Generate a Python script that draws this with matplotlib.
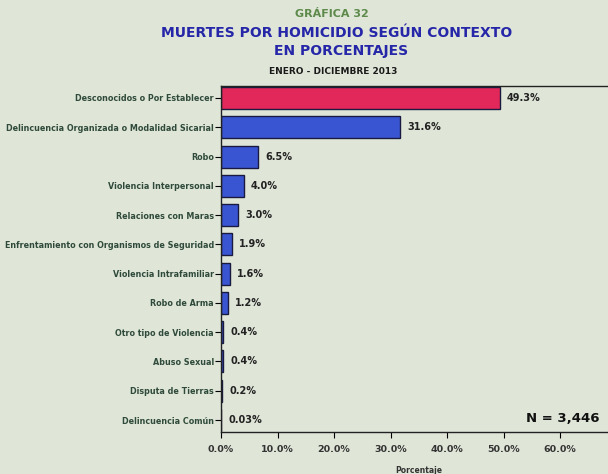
import numpy as np
from matplotlib import pyplot as plt

categories = ['Desconocidos o Por Establecer',
              'Delincuencia Organizada o Modalidad Sicarial',
              'Robo',
              'Violencia Interpersonal',
              'Relaciones con Maras',
              'Enfrentamiento con Organismos de Seguridad',
              'Violencia Intrafamiliar',
              'Robo de Arma',
              'Otro tipo de Violencia',
              'Abuso Sexual',
              'Disputa de Tierras',
              'Delincuencia Común']
values = [49.3, 31.6, 6.5, 4.0, 3.0, 1.9, 1.6, 1.2, 0.4, 0.4, 0.2, 0.03]
value_labels = ['49.3%', '31.6%', '6.5%', '4.0%', '3.0%', '1.9%', '1.6%',
                '1.2%', '0.4%', '0.4%', '0.2%', '0.03%']
xticks = [0, 10, 20, 30, 40, 50, 60]
n_total = '3,446'

bg = '#dfe6d8'
label_col = '#2f4a3a'

fig = plt.figure(figsize=(6.08, 4.74), dpi=100, facecolor=bg)
ax = fig.add_axes([0.3635, 0.0886, 0.6505, 0.73])
ax.set_facecolor(bg)

y = np.arange(len(categories))
colors = ['#e2285a'] + ['#3a55d2'] * (len(categories) - 1)
ax.barh(y, values, height=0.75, color=colors, edgecolor='#1a1a40', linewidth=1.0)

for yi, v, lab in zip(y, values, value_labels):
	ax.text(v + 1.3, yi, lab, va='center', ha='left', fontsize=7,
			fontweight='bold', color='#222222')

ax.set_ylim(11.41, -0.41)
ax.set_xlim(0, 70)
ax.set_yticks(y)
ax.set_yticklabels(categories, fontsize=5.75, color=label_col, fontweight='bold')
ax.set_xticks(xticks)
ax.set_xticklabels(['%.1f%%' % t for t in xticks], fontsize=6.8,
				   fontweight='bold', color='#333333')
ax.tick_params(axis='y', length=4, width=0.8, pad=1)
ax.tick_params(axis='x', length=4, width=0.8, pad=5)
for s in ax.spines.values():
	s.set_linewidth(1.0)
	s.set_color('#222222')

ax.set_xlabel('Porcentaje', fontsize=5.5, fontweight='bold', color='#333333', labelpad=9)

fig.text(0.926, 0.118, 'N = ' + n_total, fontsize=9.5,
		 fontweight='bold', color='#111111', ha='center', va='center')

fig.text(0.546, 0.970, 'GRÁFICA 32', ha='center', va='center', fontsize=8,
		 fontweight='bold', color='#5d8a4a')
fig.text(0.554, 0.930, 'MUERTES POR HOMICIDIO SEGÚN CONTEXTO', ha='center',
		 va='center', fontsize=10, fontweight='bold', color='#2626a8')
fig.text(0.561, 0.892, 'EN PORCENTAJES', ha='center', va='center', fontsize=10,
		 fontweight='bold', color='#2626a8')
fig.text(0.548, 0.850, 'ENERO - DICIEMBRE 2013', ha='center', va='center',
		 fontsize=6.5, fontweight='bold', color='#1a1a1a')

fig.savefig('out.png', dpi=100, facecolor=bg)
